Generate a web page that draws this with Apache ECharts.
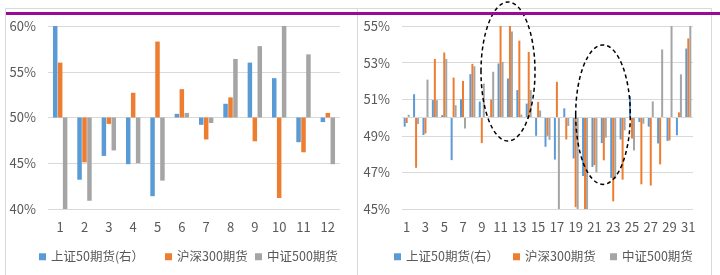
<!DOCTYPE html>
<html lang="zh">
  <head>
    <meta charset="UTF-8" />
    <title>期货走势</title>
    <script src="https://cdn.jsdelivr.net/npm/echarts@6/dist/echarts.min.js"></script>
    <style>
      body { margin: 0; background: #fff; }
    </style>
  </head>
  <body>
    <div id="main" style="width: 720px; height: 275px"></div>

    <script type="text/javascript">
      // 数据（百分比），柱子以 50% 为基线
      var seriesNames = ["上证50期货(右）", "沪深300期货", "中证500期货"];

      var leftCats = ["1", "2", "3", "4", "5", "6", "7", "8", "9", "10", "11", "12"];
      var leftSz50 = [60.0, 43.2, 45.8, 44.9, 41.4, 50.4, 49.2, 51.5, 56.0, 54.3, 47.3, 49.5];
      var leftHs300 = [56.0, 45.1, 49.3, 52.7, 58.3, 53.1, 47.6, 52.2, 47.4, 41.2, 46.2, 50.5];
      var leftZz500 = [40.0, 40.9, 46.4, 45.0, 43.1, 50.5, 49.4, 56.4, 57.8, 60.0, 56.9, 44.9];

      var rightCats = [];
      for (var d = 1; d <= 31; d++) rightCats.push(String(d));
      var rightSz50 = [49.5, 51.27, 49.04, 50.95, 50.13, 47.67, 51.0, 52.37, 50.87, 50.05,
        52.95, 52.13, 51.5, 50.76, 49.0, 48.4, 47.7, 50.5, 47.76, 46.8,
        47.3, 48.6, 46.7, 48.8, 51.17, 49.75, 49.5, 48.58, 48.72, 49.03, 53.77];
      var rightHs300 = [49.7, 47.25, 49.13, 53.2, 53.55, 52.18, 52.0, 52.93, 48.6, 50.98,
        55.0, 55.0, 54.2, 53.58, 50.85, 49.0, 51.95, 48.8, 45.1, 45.0,
        47.4, 47.66, 45.42, 46.6, 48.85, 46.35, 46.28, 47.44, 48.75, 50.28, 54.32];
      var rightZz500 = [50.15, 49.64, 52.07, 50.95, 53.2, 50.67, 49.4, 52.8, 51.85, 52.5,
        53.04, 54.7, 50.16, 51.5, 50.38, 48.78, 45.0, 49.54, 45.0, 45.0,
        47.0, 48.9, 46.65, 49.3, 48.2, 49.66, 50.88, 53.72, 55.0, 52.36, 55.0];

      var BASE = 50;
      var colors = ["#5B9BD5", "#ED7D31", "#A5A5A5"];
      var textColor = "#595959";
      var gridColor = "#d9d9d9";
      var font = "'Noto Sans CJK SC', 'Noto Sans', sans-serif";

      function offset(arr) {
        return arr.map(function (v) { return +(v - BASE).toFixed(2); });
      }

      function pct(v) {
        return Math.round(v + BASE) + "%";
      }

      function makeBar(name, data, idx, color, width, gap) {
        return {
          name: name,
          type: "bar",
          xAxisIndex: idx,
          yAxisIndex: idx,
          data: data,
          barWidth: width,
          barGap: gap,
          itemStyle: { color: color },
          silent: true,
          animation: false,
        };
      }

      var myChart = echarts.init(document.getElementById("main"));

      var xAxisCommon = {
        type: "category",
        axisLine: { show: false, onZero: false },
        axisTick: { show: false },
        axisLabel: { color: textColor, fontSize: 13, fontFamily: font, margin: 12 },
      };
      var yAxisCommon = {
        type: "value",
        axisLine: { show: false },
        axisTick: { show: false },
        axisLabel: { color: textColor, fontSize: 13, fontFamily: font, margin: 12, formatter: pct },
        splitLine: { lineStyle: { color: gridColor, width: 1 } },
      };

      var series = [
        makeBar(seriesNames[0], offset(leftSz50), 0, colors[0], 4.5, "10%"),
        makeBar(seriesNames[1], offset(leftHs300), 0, colors[1], 4.5, "10%"),
        makeBar(seriesNames[2], offset(leftZz500), 0, colors[2], 4.5, "10%"),
        makeBar(seriesNames[0], offset(rightSz50), 1, colors[0], 2, "0%"),
        makeBar(seriesNames[1], offset(rightHs300), 1, colors[1], 2, "0%"),
        makeBar(seriesNames[2], offset(rightZz500), 1, colors[2], 2, "0%"),
      ];
      // 右图 50% 基线
      series[3].markLine = {
        silent: true,
        symbol: "none",
        label: { show: false },
        lineStyle: { color: gridColor, type: "solid", width: 1 },
        data: [{ yAxis: 0 }],
      };

      // 图例：每项单独定位，对齐原图
      var legendLeft = [34, 160, 250, 389, 508, 605];
      var legends = legendLeft.map(function (x, i) {
        return {
          data: [seriesNames[i % 3]],
          left: x,
          bottom: 7,
          itemWidth: 7,
          itemHeight: 7,
          icon: "rect",
          textStyle: { color: textColor, fontSize: 12.5, fontFamily: font },
          selectedMode: false,
        };
      });

      var option = {
        animation: false,
        grid: [
          { left: 48, right: 380, top: 26, bottom: 66 },
          { left: 402, right: 27, top: 26, bottom: 66 },
        ],
        xAxis: [
          Object.assign({}, xAxisCommon, { gridIndex: 0, data: leftCats }),
          Object.assign({}, xAxisCommon, {
            gridIndex: 1,
            data: rightCats,
            axisLabel: Object.assign({}, xAxisCommon.axisLabel, { interval: 1 }),
          }),
        ],
        yAxis: [
          Object.assign({}, yAxisCommon, { gridIndex: 0, min: -10, max: 10, interval: 5 }),
          Object.assign({}, yAxisCommon, { gridIndex: 1, min: -5, max: 5, interval: 2 }),
        ],
        legend: legends,
        series: series,
        graphic: [
          // 外框与分隔线
          {
            type: "rect",
            shape: { x: 5.5, y: 8.5, width: 706, height: 270 },
            style: { fill: "none", stroke: gridColor, lineWidth: 1 },
            silent: true,
            z: 0,
          },
          {
            type: "line",
            shape: { x1: 357.5, y1: 8.5, x2: 357.5, y2: 275 },
            style: { stroke: gridColor, lineWidth: 1 },
            silent: true,
            z: 0,
          },
          // 虚线椭圆
          {
            type: "ellipse",
            shape: { cx: 508, cy: 71.5, rx: 27, ry: 69.5 },
            style: { fill: "none", stroke: "#000", lineWidth: 1.5, lineDash: [4, 3] },
            silent: true,
            z: 100,
          },
          {
            type: "ellipse",
            shape: { cx: 603, cy: 114.7, rx: 27.3, ry: 69.7 },
            style: { fill: "none", stroke: "#000", lineWidth: 1.5, lineDash: [4, 3] },
            silent: true,
            z: 100,
          },
          // 顶部紫色线
          {
            type: "line",
            shape: { x1: 6, y1: 13.5, x2: 720, y2: 13.5 },
            style: { stroke: "#990a99", lineWidth: 3 },
            silent: true,
            z: 101,
          },
        ],
      };

      myChart.setOption(option);
    </script>
  </body>
</html>
